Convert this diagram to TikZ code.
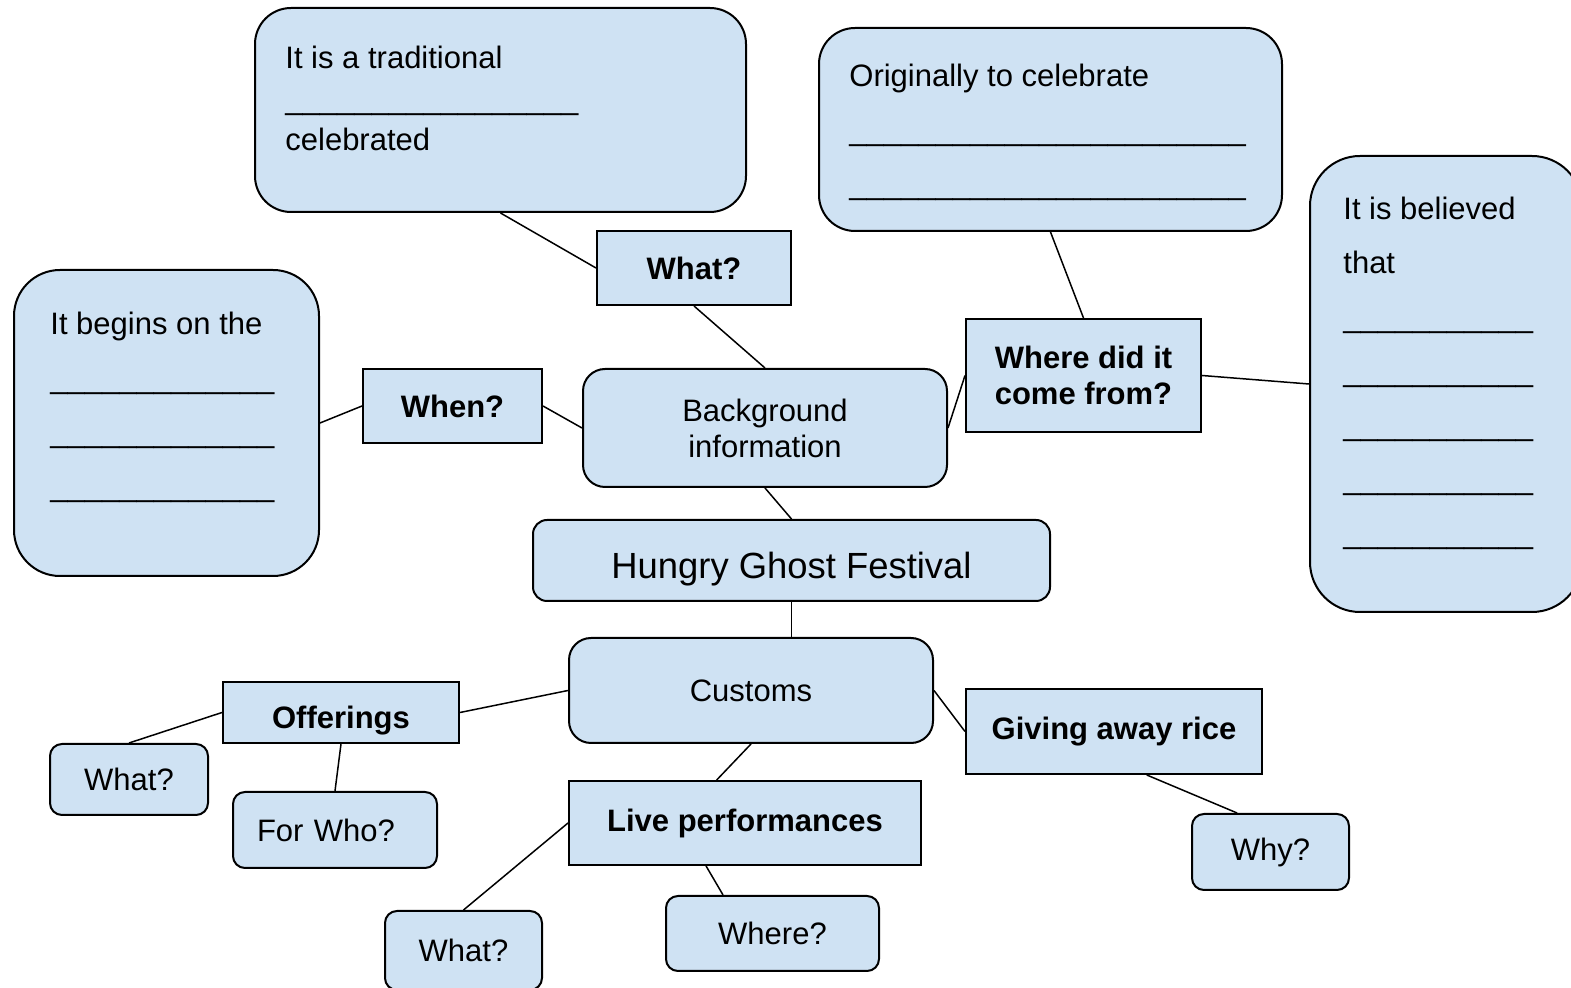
\documentclass[tikz,border=0pt]{standalone}
\usetikzlibrary{calc}
\usepackage{fontspec}
\setmainfont{Liberation Sans}
\definecolor{boxblue}{HTML}{CFE2F3}

\begin{document}
\begin{tikzpicture}[x=0.5pt, y=-0.5pt,
        box/.style={draw=black, fill=boxblue, line width=1pt, inner sep=0pt, align=center,
            font=\fontsize{15.5}{18}\selectfont},
        bubble/.style={box, rounded corners=#1},
        bubble/.default=6pt,
        qbox/.style={box, font=\fontsize{15.5}{18}\bfseries\selectfont},
        notes/.style={anchor=north west, inner sep=0pt, align=left, font=\fontsize{15.5}{27}\selectfont}]
        \useasboundingbox (0, 0) rectangle (1571, 988);

        % answer boxes
        \node[bubble=18pt, minimum width=245.5pt, minimum height=102pt] (tl) at (500.5, 110) {};
        \node[bubble=18pt, minimum width=231.5pt, minimum height=101.5pt] (tr) at (1050.5, 129.5) {};
        \node[bubble=25pt, minimum width=136pt, minimum height=228pt] (rb) at (1446, 384) {};
        \node[bubble=23pt, minimum width=152.5pt, minimum height=153pt] (lb) at (166.5, 423) {};

        \node[notes, font=\fontsize{15.5}{20.5}\selectfont] (tltext) at (285, 46)
            {It is a traditional\\ \_\_\_\_\_\_\_\_\_\_\_\_\_\_\_\_\_\\ celebrated};
        \node[notes] (trtext) at (849, 64)
            {Originally to celebrate\\ \_\_\_\_\_\_\_\_\_\_\_\_\_\_\_\_\_\_\_\_\_\_\_\\ \_\_\_\_\_\_\_\_\_\_\_\_\_\_\_\_\_\_\_\_\_\_\_};
        \node[notes] (rbtext) at (1343, 197)
            {It is believed\\ that\\ \_\_\_\_\_\_\_\_\_\_\_\\ \_\_\_\_\_\_\_\_\_\_\_\\ \_\_\_\_\_\_\_\_\_\_\_\\ \_\_\_\_\_\_\_\_\_\_\_\\ \_\_\_\_\_\_\_\_\_\_\_};
        \node[notes] (lbtext) at (50, 312)
            {It begins on the\\ \_\_\_\_\_\_\_\_\_\_\_\_\_\\ \_\_\_\_\_\_\_\_\_\_\_\_\_\\ \_\_\_\_\_\_\_\_\_\_\_\_\_};

        % questions and topics
        \node[qbox, minimum width=97pt, minimum height=37pt] (what) at (694, 268) {What?};
        \node[qbox, minimum width=89.5pt, minimum height=37pt] (when) at (452.5, 406) {When?};
        \node[qbox, minimum width=117.5pt, minimum height=56.5pt] (where) at (1083.5, 375.5) {Where did it\\ come from?};
        \node[bubble=11pt, minimum width=182pt, minimum height=59pt] (bg) at (765, 428) {Background\\ information};
        \node[bubble=7pt, minimum width=258.5pt, minimum height=40.5pt, font=\fontsize{18.2}{21}\selectfont,
            text height=18pt, text depth=0pt] (hgf) at (791.5, 560.5) {Hungry Ghost Festival};
        \node[bubble=11pt, minimum width=182pt, minimum height=52.5pt] (customs) at (751, 690.5) {Customs};
        \node[qbox, minimum width=118pt, minimum height=30.5pt, text height=16.5pt, text depth=0pt] (offer) at (341, 712.5) {Offerings};
        \node[bubble, minimum width=79pt, minimum height=35.5pt] (offwhat) at (129, 779.5) {What?};
        \node[bubble, minimum width=102pt, minimum height=38pt, text width=78pt, align=left] (forwho) at (335, 830) {For Who?};
        \node[qbox, minimum width=176pt, minimum height=42pt] (live) at (745, 823) {Live performances};
        \node[bubble, minimum width=78.5pt, minimum height=39.5pt] (livewhat) at (463.5, 950.5) {What?};
        \node[bubble, minimum width=106.5pt, minimum height=37.5pt] (livewhere) at (772.5, 933.5) {Where?};
        \node[qbox, minimum width=148pt, minimum height=42.5pt] (rice) at (1114, 731.5) {Giving away rice};
        \node[bubble, minimum width=78.5pt, minimum height=38pt] (why) at (1270.5, 852) {Why?};

        \path[line width=0.75pt]
            (tl.south) edge (what.west)
            (what.south) edge (bg.north)
            (when.west) edge (lb.east)
            (when.east) edge (bg.west)
            (bg.east) edge (where.west)
            (where.north) edge (tr.south)
            (where.east) edge (rb.west)
            (bg.south) edge (hgf.north)
            (hgf.south) edge (hgf.south |- customs.north)
            (customs.west) edge (offer.east)
            (offer.west) edge (offwhat.north)
            (offer.south) edge (forwho.north)
            (customs.south) edge ($(live.north west)!0.42!(live.north east)$)
            (customs.east) edge (rice.west)
            ($(rice.south west)!0.61!(rice.south east)$) edge ($(why.north west)!0.29!(why.north east)$)
            (live.west) edge (livewhat.north)
            ($(live.south west)!0.39!(live.south east)$) edge ($(livewhere.north west)!0.27!(livewhere.north east)$);

\end{tikzpicture}
\end{document}
